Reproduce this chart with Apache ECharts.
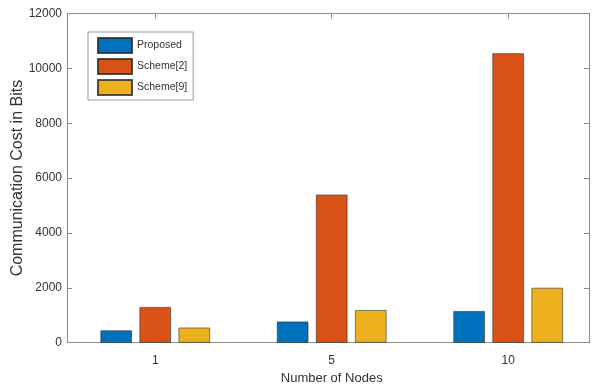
<!DOCTYPE html>
<html>
<head>
<meta charset="utf-8">
<script src="https://cdn.jsdelivr.net/npm/echarts@6/dist/echarts.min.js"></script>
<style>
html,body{margin:0;padding:0;background:#fff;}
#chart{width:594px;height:390px;}
</style>
</head>
<body>
<div id="chart"></div>
<script>
const categories = ['1', '5', '10'];
const seriesNames = ['Proposed', 'Scheme[2]', 'Scheme[9]'];
const proposed = [450, 770, 1150];
const scheme2 = [1300, 5400, 10550];
const scheme9 = [550, 1190, 2000];
const yTicks = [0, 2000, 4000, 6000, 8000, 10000, 12000];
const colors = ['#0072BD', '#D95319', '#EDB120'];

const FONT = '"Liberation Sans", Arial, sans-serif';
const axisGray = '#8c8c8c';
const textGray = '#333333';
const yMin = yTicks[0], yMax = yTicks[yTicks.length - 1], yStep = yTicks[1] - yTicks[0];

const chart = echarts.init(document.getElementById('chart'));
const allSeries = [proposed, scheme2, scheme9].map((vals, k) => ({
  name: seriesNames[k],
  type: 'bar',
  xAxisIndex: 0,
  yAxisIndex: 0,
  barWidth: 31.5,
  barGap: '24%',
  data: vals,
  itemStyle: { color: colors[k], borderColor: 'rgba(40,40,40,0.8)', borderWidth: 0.7 },
  emphasis: { disabled: true }
}));

chart.setOption({
  animation: false,
  textStyle: { fontFamily: FONT },
  grid: [
    { left: 67, width: 529.4, top: 13.5, bottom: 47.3, containLabel: false, outerBoundsMode: 'none' },
    { left: 67, right: 5, top: 13.5, bottom: 47.3, containLabel: false, outerBoundsMode: 'none' }
  ],
  legend: {
    orient: 'vertical', left: 88, top: 32,
    itemWidth: 34, itemHeight: 15, itemGap: 4,
    padding: [5, 6, 4, 9],
    borderColor: '#999', borderWidth: 1, backgroundColor: '#fff',
    icon: 'rect',
    textStyle: { fontFamily: FONT, fontSize: 10.5, color: textGray },
    data: seriesNames
  },
  xAxis: [
    {
      type: 'category', gridIndex: 0, position: 'bottom', data: categories,
      name: 'Number of Nodes', nameLocation: 'middle', nameGap: 29, nameMoveOverlap: false,
      nameTextStyle: { fontFamily: FONT, fontSize: 13, color: textGray },
      axisLine: { show: false },
      axisTick: { show: true, inside: true, length: 5, alignWithLabel: true, lineStyle: { color: '#555' } },
      axisLabel: { show: true, margin: 12, fontSize: 12, color: textGray, fontFamily: FONT },
      splitLine: { show: false }
    },
    {
      type: 'category', gridIndex: 0, position: 'top', data: categories,
      axisLine: { show: false },
      axisTick: { show: true, inside: true, length: 5, alignWithLabel: true, lineStyle: { color: axisGray } },
      axisLabel: { show: false },
      splitLine: { show: false }
    },
    {
      type: 'value', gridIndex: 1, position: 'bottom', min: 0, max: 1,
      axisLine: { show: true, onZero: false, lineStyle: { color: axisGray, width: 1 } },
      axisTick: { show: false }, axisLabel: { show: false }, splitLine: { show: false }
    },
    {
      type: 'value', gridIndex: 1, position: 'top', min: 0, max: 1,
      axisLine: { show: true, onZero: false, lineStyle: { color: axisGray, width: 1 } },
      axisTick: { show: false }, axisLabel: { show: false }, splitLine: { show: false }
    }
  ],
  yAxis: [
    {
      type: 'value', gridIndex: 0, position: 'left', min: yMin, max: yMax, interval: yStep,
      name: 'Communication Cost in Bits', nameLocation: 'middle', nameGap: 41, nameMoveOverlap: false,
      nameTextStyle: { fontFamily: FONT, fontSize: 16, color: textGray },
      axisLine: { show: true, onZero: false, lineStyle: { color: axisGray, width: 1 } },
      axisTick: { show: true, inside: true, length: 5, lineStyle: { color: axisGray } },
      axisLabel: { show: true, margin: 5, fontSize: 12, color: textGray, fontFamily: FONT, formatter: v => String(v) },
      splitLine: { show: false }
    },
    {
      type: 'value', gridIndex: 1, position: 'right', min: yMin, max: yMax, interval: yStep,
      axisLine: { show: true, onZero: false, lineStyle: { color: axisGray, width: 1 } },
      axisTick: { show: true, inside: true, length: 5, lineStyle: { color: axisGray } },
      axisLabel: { show: false },
      splitLine: { show: false }
    }
  ],
  series: allSeries
});
</script>
</body>
</html>
